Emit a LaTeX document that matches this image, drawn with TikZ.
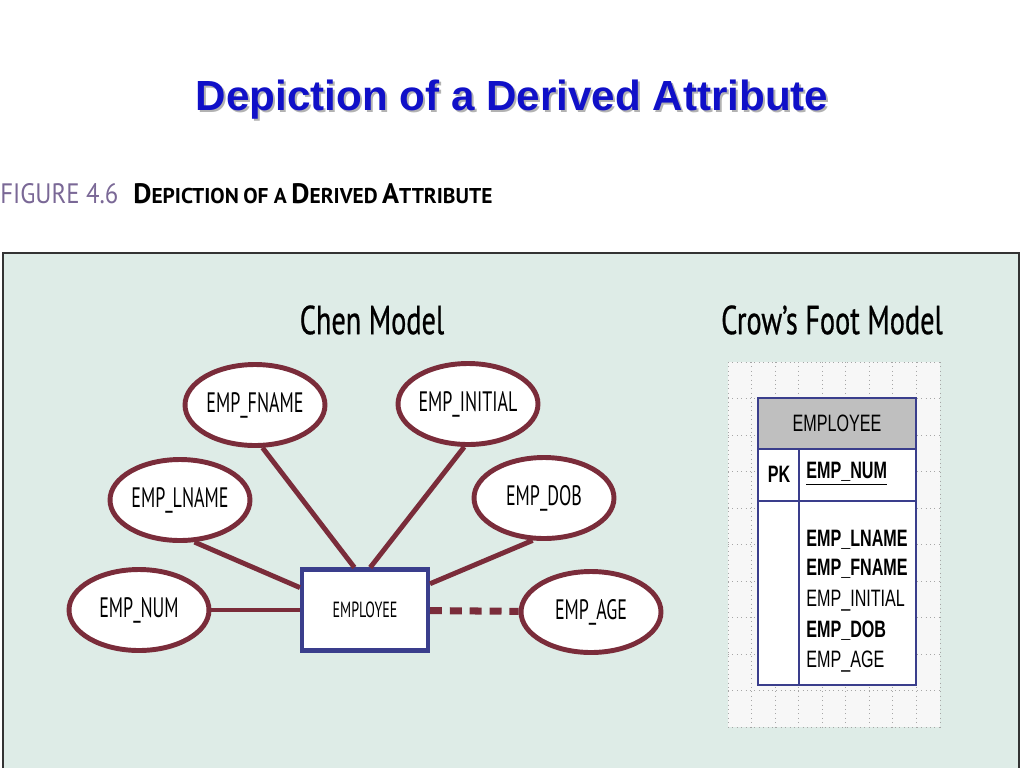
\documentclass[tikz,border=0pt]{standalone}
\usepackage{fontspec}
\setmainfont{Liberation Sans}
\newfontfamily\chenfont[FakeStretch=0.64]{PT Sans}
\newfontfamily\headfont[FakeStretch=0.7,FakeBold=0.6]{PT Sans}
\newfontfamily\crowfont[FakeStretch=0.68]{Liberation Sans}
\newfontfamily\figfont[FakeStretch=0.88]{PT Sans}
\newfontfamily\capfont{PT Sans}
\usetikzlibrary{shapes.geometric}
\usetikzlibrary{positioning}
\definecolor{maroon}{RGB}{122,44,58}
\definecolor{entblue}{RGB}{58,62,140}
\definecolor{panelbg}{RGB}{222,236,231}
\definecolor{titleblue}{RGB}{16,16,200}
\definecolor{figpurple}{RGB}{122,104,150}
\def\capword#1#2{{\fontsize{16}{16}\selectfont #1}{\fontsize{12.2}{12.2}\selectfont #2}}

\begin{document}
\begin{tikzpicture}[x=0.02cm,y=-0.02cm,
    attr/.style={ellipse,draw=maroon,line width=2.8pt,fill=white,
      minimum width=2.8cm,minimum height=1.62cm,inner sep=0pt,
      font=\chenfont\fontsize{16}{16}\selectfont},
    entity/.style={rectangle,draw=entblue,line width=2.3pt,fill=white,
      minimum width=2.52cm,minimum height=1.62cm,inner sep=0pt,
      font=\chenfont\fontsize{12.5}{12.5}\selectfont},
    link/.style={draw=maroon,line width=2.8pt},
    derived/.style={draw=maroon,line width=4pt,dash pattern=on 6.8pt off 4.5pt},
    heading/.style={font=\headfont\fontsize{23}{23}\selectfont},
    gridline/.style={draw=gray!70,line width=0.5pt,dotted},
    tabline/.style={draw=entblue,line width=1.4pt},
    crow/.style={font=\crowfont\fontsize{13.5}{13.5}\selectfont,inner sep=0pt},
    crowbold/.style={crow,font=\crowfont\bfseries\fontsize{13.5}{13.5}\selectfont}]

\useasboundingbox (0,0) rectangle (1024,768);

\node (titleshadow) at (514,102) {\fontsize{24}{24}\selectfont\bfseries\color{gray!60}Depiction of a Derived Attribute};
\node (title) at (512,100) {\fontsize{24}{24}\selectfont\bfseries\color{titleblue}Depiction of a Derived Attribute};

\node[anchor=base west,inner sep=0pt,text=figpurple,font=\figfont\fontsize{16}{16}\selectfont] (fig) at (0,203) {FIGURE 4.6};
\node[anchor=base west,inner sep=0pt,font=\capfont\bfseries] (figtitle) at (133,203)
  {\capword{D}{EPICTION} \capword{}{OF A} \capword{D}{ERIVED} \capword{A}{TTRIBUTE}};

\fill[panelbg] (3,253) rectangle (1019,768);
\draw[line width=1.5pt,black!80] (3,768) -- (3,253) -- (1019,253) -- (1019,768);

\node[heading] (chen) at (372,320) {Chen Model};
\node[heading] (crowhead) at (832,320) {Crow’s Foot Model};

\node[entity] (E) at (365,610) {EMPLOYEE};
\node[attr] (FN) at (255,405) {EMP\_FNAME};
\node[attr] (IN) at (468,404) {EMP\_INITIAL};
\node[attr] (LN) at (180,500) {EMP\_LNAME};
\node[attr] (DOB) at (544,498) {EMP\_DOB};
\node[attr] (NUM) at (139,610) {EMP\_NUM};
\node[attr] (AGE) at (591,612) {EMP\_AGE};

\path[link]
  (FN.-80) edge (E.104)
  (IN.-95) edge (E.83)
  (LN.-71) edge (E.161)
  (DOB.-105) edge (E.22)
  (NUM) edge (E);
\path[derived] (E) edge (AGE);

\fill[black!3] (728,362) rectangle (940,727);
\foreach \i in {0,...,9}
  \draw[gridline] (728+\i*23.55,362) -- (728+\i*23.55,727);
\foreach \j in {0,...,10}
  \draw[gridline] (728,362+\j*36.5) -- (940,362+\j*36.5);

\fill[white] (758,398) rectangle (916,685);
\fill[black!25] (758,398) rectangle (916,449);
\draw[tabline] (758,398) rectangle (916,685);
\draw[tabline] (758,449) -- (916,449);
\draw[tabline] (758,501) -- (916,501);
\draw[tabline] (799,449) -- (799,685);

\node[crow] (tab) at (837,423) {EMPLOYEE};
\node[crowbold] (pk) at (779,474) {PK};
\node[crowbold,anchor=west] (key) at (806,474) {\underline{EMP\_NUM}};
\node[crowbold,anchor=base west] (a1) at (806,546) {EMP\_LNAME};
\node[crowbold,anchor=base west] (a2) at (806,575) {EMP\_FNAME};
\node[crow,anchor=base west] (a3) at (806,606) {EMP\_INITIAL};
\node[crowbold,anchor=base west] (a4) at (806,637) {EMP\_DOB};
\node[crow,anchor=base west] (a5) at (806,667) {EMP\_AGE};
\end{tikzpicture}
\end{document}
